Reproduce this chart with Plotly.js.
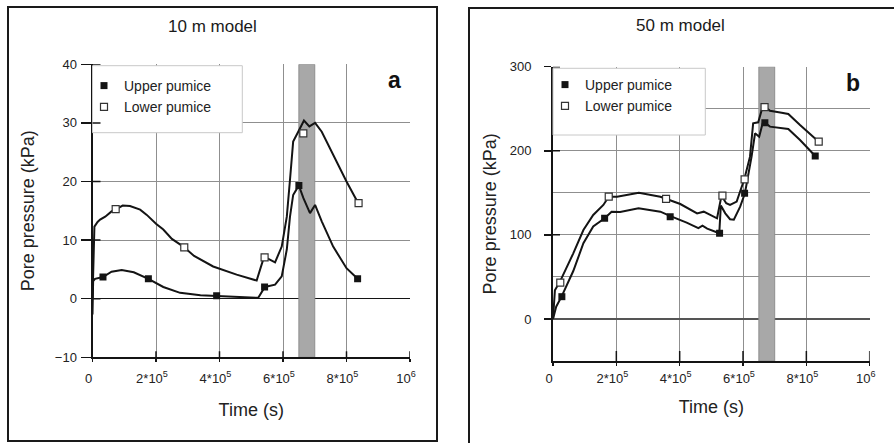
<!DOCTYPE html>
<html><head><meta charset="utf-8">
<script src="https://cdn.plot.ly/plotly-3.0.1.min.js"></script>
<style>html,body{margin:0;padding:0;background:#fff}</style>
</head><body><div id="chart" style="width:894px;height:443px"></div>
<script>
// ---------- data ----------
const xTickVals = [0, 200000, 400000, 600000, 800000, 1000000];
const xTickText = ['0', '2*10<sup>5</sup>', '4*10<sup>5</sup>', '6*10<sup>5</sup>', '8*10<sup>5</sup>', '10<sup>6</sup>'];
const aYTicks = [-10, 0, 10, 20, 30, 40];
const bYTicks = [0, 100, 200, 300];
const band = [650000, 700000];
const aRange = [-10, 40];
const bRange = [-50, 300];

// Panel a (10 m model) - curves
const aUpperT = [0, 2000, 8000, 24000, 33000, 60000, 92000, 130000, 176000, 223000, 276000, 340000, 391000, 450000, 522000, 543000, 575000, 596000, 612000, 622000, 632000, 643000, 650000, 664000, 685000, 701000, 722000, 758000, 800000, 835000];
const aUpperP = [-2.7, 3.0, 3.4, 3.6, 3.7, 4.6, 4.9, 4.5, 3.4, 2.0, 1.0, 0.6, 0.45, 0.25, 0.15, 2.0, 2.4, 3.8, 8.4, 14.0, 17.7, 18.7, 19.3, 17.2, 14.6, 16.0, 13.2, 8.9, 5.2, 3.4];
const aLowerT = [0, 3000, 6000, 16000, 24000, 40000, 60000, 75000, 95000, 118000, 150000, 171000, 200000, 223000, 250000, 286000, 320000, 380000, 454000, 517000, 540000, 554000, 575000, 596000, 612000, 622000, 632000, 648000, 666000, 683000, 701000, 722000, 758000, 800000, 837000];
const aLowerP = [0, 9.5, 12.3, 13.1, 13.5, 14.0, 14.9, 15.3, 15.9, 15.8, 15.2, 14.3, 12.8, 11.8, 10.2, 8.9, 7.3, 5.5, 4.1, 3.1, 7.1, 6.8, 6.2, 8.9, 14.0, 20.3, 26.8, 28.5, 30.4, 29.4, 30.0, 28.5, 24.6, 20.0, 16.3];
// Panel a - measured points
const aUpperMT = [33000, 176000, 391000, 542000, 650000, 835000];
const aUpperMP = [3.7, 3.4, 0.5, 2.0, 19.3, 3.4];
const aLowerMT = [73000, 289000, 542000, 664000, 838000];
const aLowerMP = [15.3, 8.75, 7.05, 28.2, 16.3];

// Panel b (50 m model) - curves
const bUpperT = [0, 10000, 27000, 64000, 96000, 127000, 164000, 185000, 212000, 270000, 339000, 369000, 422000, 459000, 472000, 487000, 525000, 530000, 544000, 559000, 571000, 591000, 606000, 627000, 638000, 651000, 662000, 667000, 685000, 718000, 743000, 780000, 828000];
const bUpperP = [0, 14.6, 26.5, 57, 90, 110, 120, 127.6, 127.3, 131.6, 127.6, 122.5, 114.5, 108, 111, 107.5, 101.9, 135, 125.6, 118.6, 118, 133.5, 149.5, 193, 220.8, 216.8, 232.6, 234.2, 228.7, 227.5, 225.9, 212.8, 193.8];
const bLowerT = [0, 2000, 6000, 22000, 64000, 96000, 127000, 159000, 176000, 202000, 271000, 339000, 357000, 402000, 455000, 476000, 518000, 532000, 547000, 559000, 580000, 604000, 622000, 632000, 648000, 659000, 667000, 685000, 722000, 743000, 780000, 839000];
const bLowerP = [0, 15, 34, 44.4, 78, 105.8, 123.7, 135.6, 145.4, 145.4, 150.2, 145.4, 142.7, 136.7, 125.6, 127.6, 119.7, 146.6, 137.6, 135.6, 139.5, 166.1, 193, 232.6, 233.9, 248.5, 252.4, 247.7, 245.3, 243.8, 230.7, 210.8];
// Panel b - measured points
const bUpperMT = [28000, 163000, 370000, 526000, 605000, 669000, 828000];
const bUpperMP = [26.5, 119.7, 121.6, 101.9, 149.5, 233.4, 193.8];
const bLowerMT = [23000, 176000, 357000, 535000, 605000, 668000, 839000];
const bLowerMP = [43.2, 145.4, 142.7, 146.6, 166.1, 252, 210.8];

const seriesNames = ['Upper pumice', 'Lower pumice'];
const panelTitles = ['10 m model', '50 m model'];
const panelLetters = ['a', 'b'];

// ---------- styling ----------
const W = 894, H = 443;
const FONT = 'Arial, "Liberation Sans", Helvetica, sans-serif';
const INK = '#141414';
const GRID = '#8f8f8f';
const px = v => v / W;
const py = v => 1 - v / H;
// plot-area pixel boxes (used for domains and tick-mark lengths)
const A = {l: 92.5, r: 410, t: 64.3, b: 357.3};
const B = {l: 553, r: 869.7, t: 66.7, b: 361};

function bandTrace(xa, ya, yr) {
  return {type: 'bar', x: [(band[0] + band[1]) / 2], width: [band[1] - band[0]],
    base: [yr[0]], y: [yr[1] - yr[0]], xaxis: xa, yaxis: ya, showlegend: false, hoverinfo: 'skip',
    marker: {color: '#a8a8a8', line: {color: '#8e8e8e', width: 1}}};
}
function lineTrace(x, y, xa, ya) {
  return {x, y, xaxis: xa, yaxis: ya, mode: 'lines', type: 'scatter',
    line: {color: INK, width: 2}, showlegend: false, hoverinfo: 'skip'};
}
function markTrace(x, y, xa, ya, filled, name, legend) {
  return {x, y, xaxis: xa, yaxis: ya, mode: 'markers', type: 'scatter', name, legend,
    marker: filled ? {symbol: 'square', size: 7, color: INK, line: {width: 0}}
                   : {symbol: 'square', size: 7, color: '#fff', line: {color: '#333', width: 1.2}}};
}

const data = [
  bandTrace('x', 'y', aRange),
  lineTrace(aUpperT, aUpperP, 'x', 'y'),
  lineTrace(aLowerT, aLowerP, 'x', 'y'),
  markTrace(aUpperMT, aUpperMP, 'x', 'y', true, seriesNames[0], 'legend'),
  markTrace(aLowerMT, aLowerMP, 'x', 'y', false, seriesNames[1], 'legend'),
  bandTrace('x2', 'y2', bRange),
  lineTrace(bUpperT, bUpperP, 'x2', 'y2'),
  lineTrace(bLowerT, bLowerP, 'x2', 'y2'),
  markTrace(bUpperMT, bUpperMP, 'x2', 'y2', true, seriesNames[0], 'legend2'),
  markTrace(bLowerMT, bLowerMP, 'x2', 'y2', false, seriesNames[1], 'legend2')
];

const tickFont = {family: FONT, size: 13, color: '#222'};
const titleFont = {family: FONT, size: 18, color: '#222'};

function mainX(domain, anchor, standoffLab, standoffTitle) {
  return {domain, anchor, range: [0, 1000000], tickmode: 'array', tickvals: xTickVals, ticktext: xTickText,
    ticks: 'outside', ticklen: 3, tickwidth: 1.5, tickcolor: INK,
    showline: true, linecolor: INK, linewidth: 2, showgrid: true, gridcolor: GRID, gridwidth: 1,
    zeroline: false, tickfont: tickFont, ticklabelshift: -4, ticklabelstandoff: standoffLab,
    title: {text: 'Time (s)', font: titleFont, standoff: standoffTitle}, fixedrange: true};
}

// inner halves of the crossing tick marks (axis decoration)
function innerTicks(xr, yr, box, xLen, yLen, yTicks) {
  const out = [];
  xTickVals.slice(1).forEach(v => out.push({type: 'line', xref: xr, yref: yr + ' domain', x0: v, x1: v,
    y0: 0, y1: xLen / (box.b - box.t), line: {color: INK, width: 1.5}, layer: 'above'}));
  yTicks.forEach(v => out.push({type: 'line', xref: xr + ' domain', yref: yr, y0: v, y1: v,
    x0: 0, x1: yLen / (box.r - box.l), line: {color: INK, width: 1.5}, layer: 'above'}));
  return out;
}

const layout = {
  width: W, height: H, autosize: false,
  margin: {l: 0, r: 0, t: 0, b: 0},
  paper_bgcolor: '#fff', plot_bgcolor: 'rgba(0,0,0,0)',
  font: {family: FONT, color: '#222'},
  showlegend: true, bargap: 0, hovermode: false,
  xaxis: mainX([px(A.l), px(A.r)], 'y', 5, 18),
  yaxis: {domain: [py(A.b), py(A.t)], anchor: 'x', range: aRange, tickmode: 'array', tickvals: aYTicks,
    ticks: 'outside', ticklen: 10, tickwidth: 1.5, tickcolor: INK,
    showline: true, linecolor: INK, linewidth: 2, showgrid: true, gridcolor: GRID, gridwidth: 1,
    zeroline: true, zerolinecolor: INK, zerolinewidth: 1.3, tickfont: tickFont, ticklabelstandoff: 1,
    title: {text: 'Pore pressure (kPa)', font: titleFont, standoff: 16}, fixedrange: true},
  xaxis2: mainX([px(B.l), px(B.r)], 'y2', 1, 16),
  yaxis2: {domain: [py(B.b), py(B.t)], anchor: 'x2', range: bRange, tickmode: 'array', tickvals: bYTicks,
    ticks: 'outside', ticklen: 7, tickwidth: 1.5, tickcolor: INK,
    showline: true, linecolor: INK, linewidth: 2, showgrid: true, gridcolor: GRID, gridwidth: 1,
    minor: {dtick: 50, tick0: 0, showgrid: true, gridcolor: GRID, gridwidth: 1, ticks: ''},
    zeroline: true, zerolinecolor: '#555', zerolinewidth: 1.2, tickfont: tickFont, ticklabelstandoff: 10,
    title: {text: 'Pore pressure (kPa)', font: titleFont, standoff: 8}, fixedrange: true},
  legend: {x: px(84), y: py(70), xanchor: 'left', yanchor: 'top', bgcolor: 'rgba(0,0,0,0)', borderwidth: 0,
    font: {family: FONT, size: 14, color: '#222'}, tracegroupgap: 0},
  legend2: {x: px(545), y: py(69), xanchor: 'left', yanchor: 'top', bgcolor: 'rgba(0,0,0,0)', borderwidth: 0,
    font: {family: FONT, size: 14, color: '#222'}, tracegroupgap: 0},
  shapes: [
    // panel frames
    {type: 'rect', xref: 'paper', yref: 'paper', x0: px(8), x1: px(437), y0: py(441), y1: py(7),
      line: {color: '#1a1a1a', width: 2}, fillcolor: 'rgba(0,0,0,0)', layer: 'below'},
    {type: 'rect', xref: 'paper', yref: 'paper', x0: px(469), x1: 1.02, y0: -0.02, y1: py(8),
      line: {color: '#1a1a1a', width: 2}, fillcolor: 'rgba(0,0,0,0)', layer: 'below'},
    // legend boxes
    {type: 'rect', xref: 'paper', yref: 'paper', x0: px(92.5), x1: px(242.3), y0: py(132.7), y1: py(65.7),
      fillcolor: '#fff', line: {color: '#c8c8c8', width: 1}, layer: 'above'},
    {type: 'rect', xref: 'paper', yref: 'paper', x0: px(553), x1: px(705.3), y0: py(135), y1: py(68.3),
      fillcolor: '#fff', line: {color: '#c8c8c8', width: 1}, layer: 'above'}
  ].concat(innerTicks('x', 'y', A, 6, 8, aYTicks.slice(1)), innerTicks('x2', 'y2', B, 10, 7, bYTicks.slice(1))),
  annotations: [
    {text: panelTitles[0], xref: 'paper', yref: 'paper', x: px(212.7), y: py(26.7), showarrow: false,
      xanchor: 'center', yanchor: 'middle', font: {family: FONT, size: 17, color: '#1a1a1a'}},
    {text: panelTitles[1], xref: 'paper', yref: 'paper', x: px(680.3), y: py(25), showarrow: false,
      xanchor: 'center', yanchor: 'middle', font: {family: FONT, size: 17, color: '#1a1a1a'}},
    {text: '<b>' + panelLetters[0] + '</b>', xref: 'paper', yref: 'paper', x: px(394), y: py(80), showarrow: false,
      xanchor: 'center', yanchor: 'middle', font: {family: FONT, size: 23, color: '#111'}},
    {text: '<b>' + panelLetters[1] + '</b>', xref: 'paper', yref: 'paper', x: px(853), y: py(83), showarrow: false,
      xanchor: 'center', yanchor: 'middle', font: {family: FONT, size: 23, color: '#111'}}
  ]
};

Plotly.newPlot('chart', data, layout, {staticPlot: true, displayModeBar: false});
</script></body></html>
